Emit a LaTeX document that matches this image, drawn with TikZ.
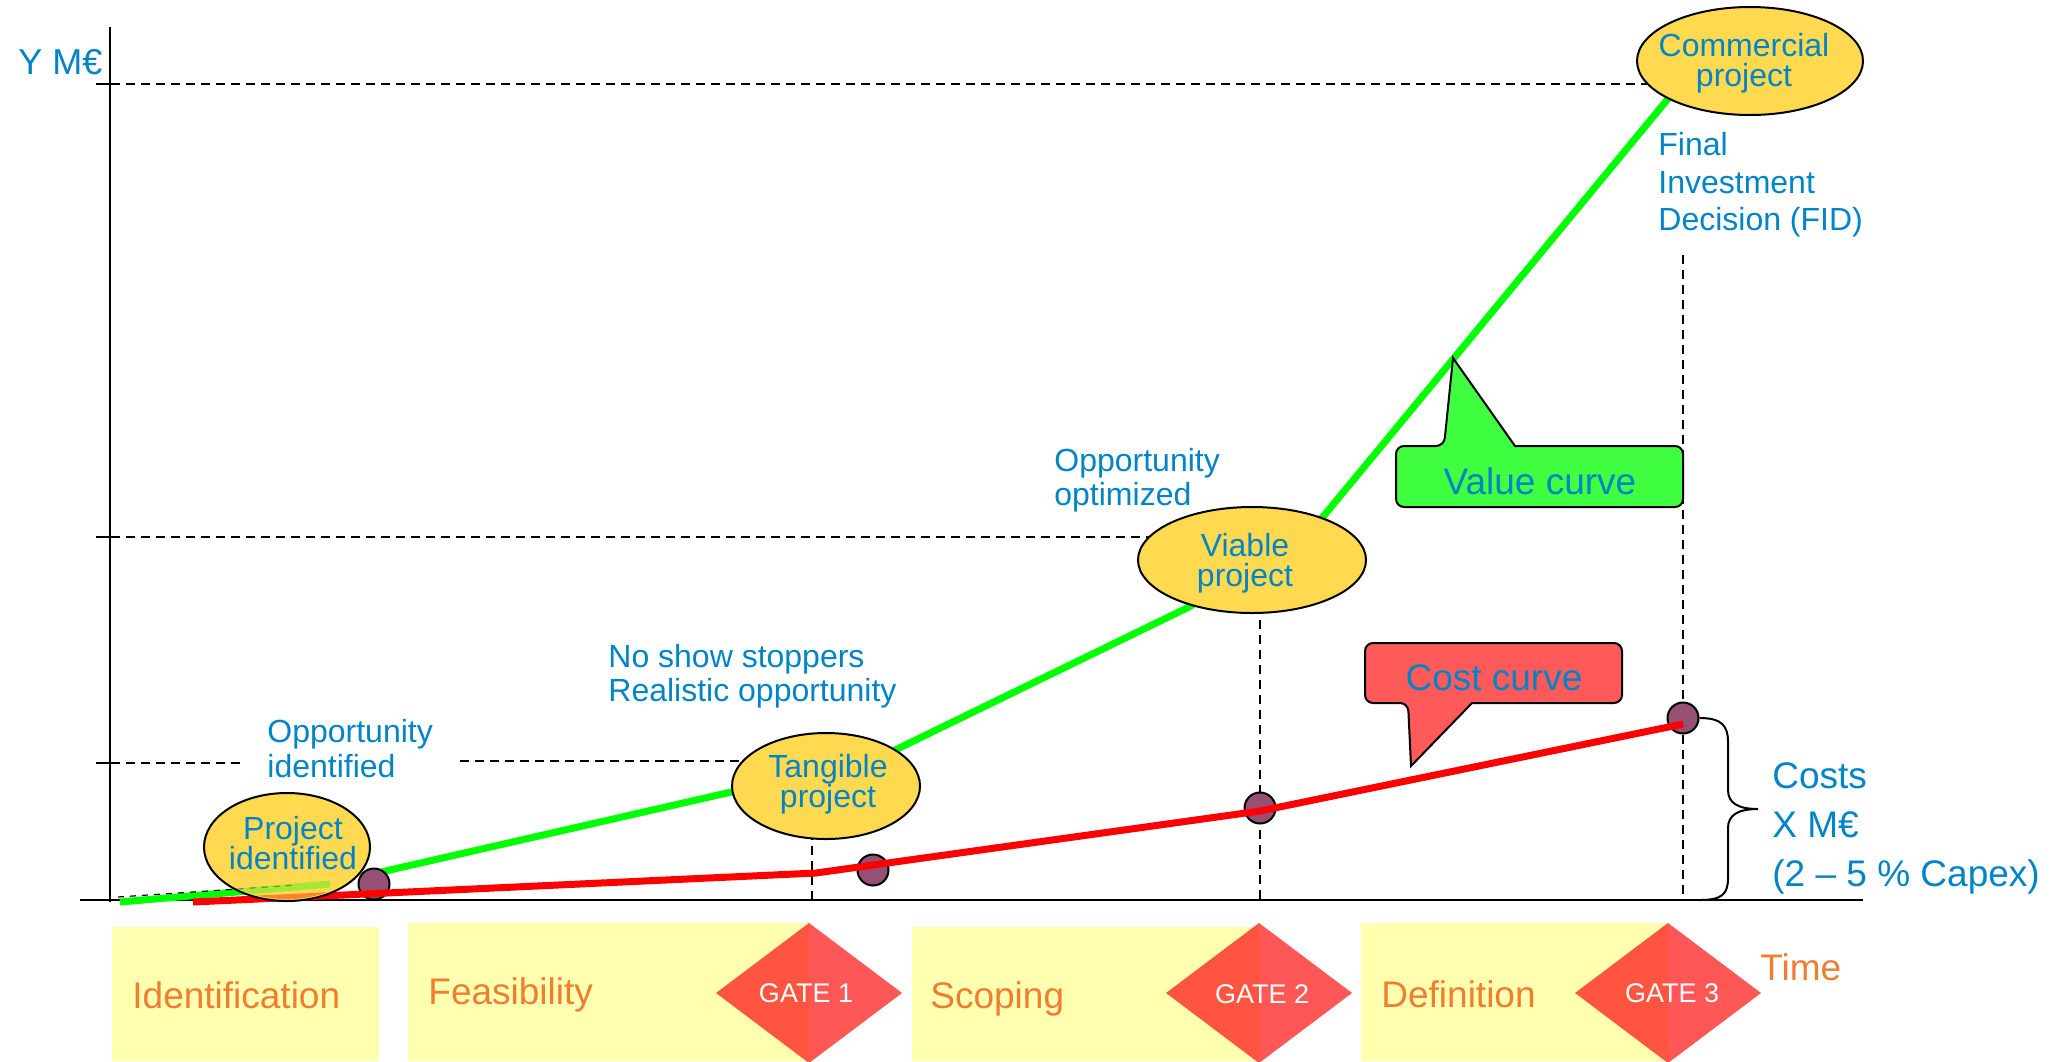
\documentclass[tikz,border=0pt]{standalone}
\usepackage{fontspec}
\setmainfont{Liberation Sans}
\usetikzlibrary{shapes.geometric}
\definecolor{txtblue}{RGB}{0,132,200}
\definecolor{txtorange}{RGB}{240,125,50}
\definecolor{ellfill}{RGB}{255,217,80}
\definecolor{phasefill}{RGB}{255,255,176}
\definecolor{dotfill}{RGB}{150,80,115}
\definecolor{valfill}{RGB}{64,255,64}
\definecolor{costfill}{RGB}{255,90,90}
\definecolor{gateL}{RGB}{255,85,64}
\definecolor{gateR}{RGB}{255,86,86}
\pgfdeclarelayer{bg}
\pgfdeclarelayer{curves}
\pgfsetlayers{bg,curves,main}
\begin{document}
\begin{tikzpicture}[x=0.5pt,y=-0.5pt,
  guide/.style={black,line width=1pt,dash pattern=on 4.5pt off 3pt},
  axisline/.style={black,line width=1pt},
  valueline/.style={green,line width=3.5pt},
  costline/.style={red,line width=3.5pt},
  milestone/.style={ellipse,draw=black,line width=1pt,fill=ellfill,inner sep=0pt},
  milestonetext/.style={text=txtblue,font=\fontsize{16}{15}\selectfont,align=center,inner sep=0pt},
  annot/.style={text=txtblue,inner sep=0pt,align=left,anchor=north west},
  phaselabel/.style={text=txtorange,font=\fontsize{18.5}{22}\selectfont,inner sep=0pt,anchor=base west},
  gatelabel/.style={text=white,font=\fontsize{13.5}{16}\selectfont,inner sep=0pt},
  costdot/.style={circle,draw=black,line width=1pt,fill=dotfill,minimum size=15.5pt,inner sep=0pt},
  callouttext/.style={text=txtblue,font=\fontsize{18.5}{22}\selectfont,inner sep=0pt},
  callout/.style={draw=black,line width=1pt},
]
\useasboundingbox (0,0) rectangle (2060,1061);

% ---- milestones (ellipses) ----
\node[milestone,minimum width=113pt,minimum height=54pt] (commercial) at (1750,61) {};
\node[milestone,minimum width=94pt,minimum height=53pt] (tangible) at (826,786) {};
\node[milestone,minimum width=114pt,minimum height=53pt] (viable) at (1252,560) {};
\node[milestone,minimum width=83pt,minimum height=54pt] (identified) at (287,847) {};

% ---- axes, ticks and guide lines ----
\coordinate (origin) at (110,900);
\coordinate (ytop) at (110,27);
\coordinate (ybot) at (110,902);
\coordinate (xleft) at (80,900);
\coordinate (xright) at (1863,900);
\coordinate (tickA) at (96,84);
\coordinate (tickB) at (96,537);
\coordinate (tickC) at (96,763);
\coordinate (gapC) at (245,763);
\coordinate (gC2) at (460,761);
\coordinate (vA) at (812,900);
\coordinate (vB) at (1260,900);
\coordinate (vC) at (1683,900);
\coordinate (vCtop) at (1683,255);

\begin{pgfonlayer}{bg}
  % phase bars
  \fill[phasefill] (112,927) rectangle (379,1061);
  \fill[phasefill] (408,923) rectangle (809,1061);
  \fill[phasefill] (912,927) rectangle (1259,1061);
  \fill[phasefill] (1361,923) rectangle (1668,1061);
  % gates
  \foreach \cx/\n in {809/1,1259/2,1668/3} {
    \fill[gateL] (\cx,923) -- (\cx-93,993) -- (\cx,1063) -- cycle;
    \fill[gateR] (\cx,923) -- (\cx+93,993) -- (\cx,1063) -- cycle;
  }
  % axes
  \draw[axisline] (ybot) -- (ytop);
  \draw[axisline] (xleft) -- (xright);
  \foreach \t in {tickA,tickB,tickC} \draw[axisline] (\t) -- (\t -| origin);
  % guides
  \draw[guide] (tickA) -- (tickA -| commercial.center);
  \draw[guide] (tickB) -- (tickB -| viable.center);
  \draw[guide] (tickC) -- (gapC);
  \draw[guide] (gC2) -- (gC2 -| tangible.center);
  \draw[guide] (vA |- tangible.center) -- (vA);
  \draw[guide] (vB |- viable.center) -- (vB);
  \draw[guide] (vCtop) -- (vC);
\end{pgfonlayer}

% ---- value and cost curves ----
\coordinate (g0) at (120,902);
\coordinate (g1) at (330,884);
\coordinate (g2) at (368,875);
\coordinate (g3) at (740,790);
\coordinate (g4) at (891,752);
\coordinate (g5) at (1189,607);
\coordinate (g6) at (1322,518);
\coordinate (g7) at (1700,60);
\coordinate (r0) at (193,902);
\coordinate (r1) at (816,873);
\coordinate (r2) at (1260,811);
\coordinate (r3) at (1683,724);
\begin{pgfonlayer}{curves}
  \draw[valueline] (g0) -- (g1);
  \draw[valueline] (g2) -- (g3) -- (g4) -- (g5) -- (g6) -- (g7);
  \draw[black,line width=0.6pt,dash pattern=on 3pt off 3pt] (118,897) -- (297,885);

  \node[costdot] (d1) at (374,884) {};
  \node[costdot] (d2) at (873,870) {};
  \node[costdot] (d3) at (1260,808) {};
  \node[costdot] (d4) at (1683,718) {};

  \draw[costline] (r0) -- (r1) -- (r2) -- (r3);
\end{pgfonlayer}

% curve pieces seen through the first milestone
\begin{scope}
  \clip (identified.center) ellipse [x radius=81, y radius=52];
  \draw[valueline,draw opacity=0.35] (g0) -- (g1);
  \draw[costline,draw opacity=0.4] (r0) -- (r1);
  \draw[black,line width=0.6pt,dash pattern=on 3pt off 3pt,draw opacity=0.35] (118,897) -- (297,885);
\end{scope}

\node[milestonetext] (commercialtxt) at (1744,63) {Commercial\\project};
\node[milestonetext] (tangibletxt) at (828,784) {Tangible\\project};
\node[milestonetext] (viabletxt) at (1245,563) {Viable\\project};
\node[milestonetext] (identifiedtxt) at (293,843) {Project\\identified};

% ---- callouts ----
\draw[callout,fill=valfill] (1540,507) [rounded corners=4pt] -- (1396,507) -- (1396,446) -- (1444,446)
  [sharp corners] -- (1453,358) -- (1515,446) [rounded corners=4pt] -- (1683,446) -- (1683,507) -- cycle;
\node[callouttext] (valuelbl) at (1540,481) {Value curve};

\draw[callout,fill=costfill] (1494,643) [rounded corners=4pt] -- (1365,643) -- (1365,703) -- (1408,703)
  [sharp corners] -- (1411,766) -- (1472,703) [rounded corners=4pt] -- (1622,703) -- (1622,643) -- cycle;
\node[callouttext] (costlbl) at (1494,678) {Cost curve};

% ---- brace on the cost range ----
\draw[line width=1pt] (d4.east) .. controls (1722,718) and (1728,726) .. (1728,742) -- (1728,790)
  .. controls (1728,803) and (1738,809) .. (1758,809)
  .. controls (1738,809) and (1728,815) .. (1728,828) -- (1728,878)
  .. controls (1728,894) and (1722,900) .. (1700,900);

% ---- annotations ----
\node[text=txtblue,inner sep=0pt,anchor=base west,font=\fontsize{18}{22}\selectfont] (yunit) at (18,74) {Y M€};
\node[annot,font=\fontsize{16}{18.8}\selectfont] (fid) at (1658,132) {Final\\Investment\\Decision (FID)};
\node[annot,font=\fontsize{16}{17}\selectfont] (optimized) at (1054,448) {Opportunity\\optimized};
\node[annot,font=\fontsize{16}{17}\selectfont] (realistic) at (608,644) {No show stoppers\\Realistic opportunity};
\node[annot,font=\fontsize{16}{17.5}\selectfont] (oppident) at (267,719) {Opportunity\\identified};
\node[annot,font=\fontsize{18.5}{24.5}\selectfont] (costs) at (1772,762) {Costs\\X M€\\(2 – 5 \% Capex)};

% ---- phases and gates ----
\node[phaselabel] (identification) at (132,1008) {Identification};
\node[phaselabel] (feasibility) at (428,1004) {Feasibility};
\node[phaselabel] (scoping) at (930,1008) {Scoping};
\node[phaselabel] (definition) at (1381,1007) {Definition};
\node[phaselabel] (time) at (1760,980) {Time};
\node[gatelabel] (gate1) at (806,993) {GATE 1};
\node[gatelabel] (gate2) at (1262,994) {GATE 2};
\node[gatelabel] (gate3) at (1672,993) {GATE 3};
\end{tikzpicture}
\end{document}
